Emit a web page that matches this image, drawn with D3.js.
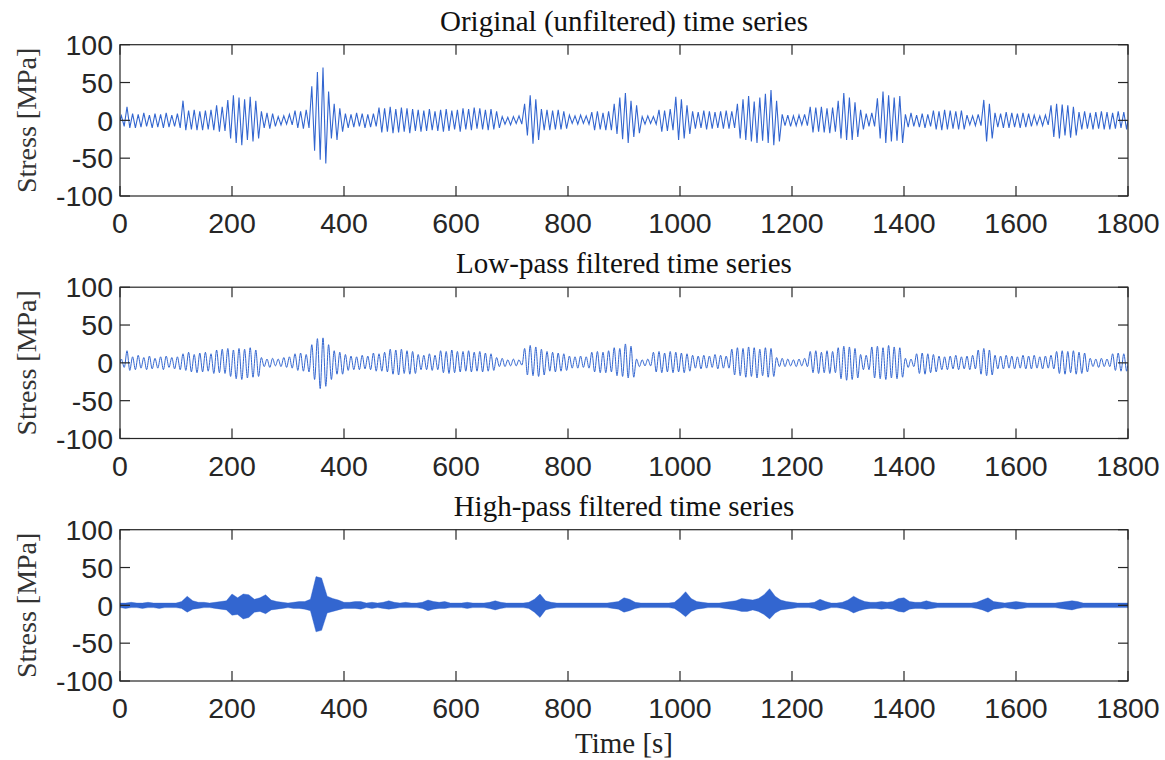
<!DOCTYPE html>
<html><head><meta charset="utf-8">
<script src="https://cdn.jsdelivr.net/npm/d3@7"></script>
<style>body{margin:0;background:#fff}</style>
</head><body><svg id="c" width="1165" height="760"></svg>
<script>
// ---------- data ----------
const panelTitles = ["Original (unfiltered) time series", "Low-pass filtered time series", "High-pass filtered time series"];
const xTicks = [0, 200, 400, 600, 800, 1000, 1200, 1400, 1600, 1800];
const yTicks = [-100, -50, 0, 50, 100];
const yLabel = "Stress [MPa]";
const xLabel = "Time [s]";
const cycleLen = 10;   // seconds per oscillation cycle (one peak + one trough)
const hpStep = 10;     // seconds between high-pass envelope samples

// Original series: per-cycle peak (positive) and trough (magnitude) [MPa]
const origPeak = [6,18, 9,8,10,7,9,8,10,7,9, 26, 13,14,12,13,14, 20,18, 27,33,30,28,31,26, 12,10,9, 5,6,8, 13,12,14, 45,64,70,38, 22,16, 9,8,10,9,8,9, 17,16,18,15,17,16,15, 14,13,15,12,14,15,13,14, 16,15,17,16,14,15,12, 5,4,5,6, 22,33,28, 15,14,13,14,12, 7,6,7,6, 11,12,10,12, 22,30,36,26,20, 5,6,5, 14,13,15, 31,28,20, 12,11,13,12,11,12,13,12, 22,28,32,25,30,35,40,26, 8,7,6,7,8, 18,17,18,16,17, 26,36,30,24,14, 9,10, 29,38,33,30,32, 8,10,7,9,8, 13,12,14,13,12,13, 7,6,8, 27,22, 10,9,11,10,9,10,9, 7,6,7, 20,22,21,20,18, 11,12,10,11,12,11,10,12,11];
const origTrough = [8,10, 10,9,8,10,9,10,9,8,10, 13, 12,13,13,12,13, 15,14, 24,30,33,26,28,24, 10,11,8, 6,5,6, 10,11,10, 40,52,57,24, 26,15, 10,9,8,10,9,8, 16,15,17,16,15,17,14, 15,14,13,14,15,14,12,15, 12,13,11,12,13,12,10, 5,6,4,5, 20,31,26, 13,13,12,12,11, 4,5,4,5, 13,12,13,13, 18,25,30,22,17, 5,4,5, 15,14,13, 26,24,18, 11,10,12,11,10,11,11,10, 24,26,28,30,27,30,33,28, 7,8,7,6,7, 16,15,16,17,15, 24,26,26,22,12, 8,8, 24,30,28,27,30, 9,8,9,10,8, 12,13,12,11,12,12, 6,7,7, 28,24, 9,10,10,9,10,9,8, 6,7,6, 22,24,20,23,20, 12,11,12,11,12,12,11,10,12];

// Low-pass series: per-cycle peak and trough magnitude [MPa]
const lowPeak = [5,16, 8,10,7,9,6,8,9,7,8, 12,14,11,13,14,12, 17,18, 19,17,19,18,20,17, 7,5,6,5,7,8, 12,13,11, 24,32,33,24, 16,14,11, 9,8,10,9, 13,12,14, 18,17,18,16,15, 11,10,12,10, 16,15,17,15, 15,16,14,15,13,12, 7,6,4,5,4, 19,23,21,18, 15,14,13,12, 9,8,9,8, 14,15,14,16, 20,19,25,22, 5,4,5, 14,15,13,15,14,13,12, 10,9,10,9,11,10,9, 18,20,19,21,20,18,20,19, 7,6,5,4,5,6, 15,16,14,16,15, 20,22,21,19, 11,10, 21,22,20,23,21,20, 6,5, 12,13,12,11, 9,8,9,10,8,9,10, 17,19,17, 10,9,10,9,8,10,9,10,8,9,10, 15,16,15,16,14,13, 6,5,6,5, 12,13,12];
const lowTrough = [6,10, 9,7,9,8,7,9,6,8,9, 10,12,13,12,11,14, 13,14, 18,21,22,20,19,18, 5,6,4,5,6,7, 10,11,12, 22,34,31,22, 15,15,10, 9,9,8,9, 11,11,12, 15,16,14,15,14, 9,9,10,9, 13,14,13,12, 11,12,11,12,11,10, 5,5,4,4,3, 16,17,18,16, 11,12,11,10, 7,7,6,7, 12,13,13,12, 17,18,20,19, 5,4,4, 12,13,12,13,12,13,11, 7,8,7,6,8,7,7, 16,17,19,18,20,17,19,18, 5,5,4,5,4,5, 13,14,13,14,13, 21,23,22,20, 9,9, 20,21,22,20,21,19, 6,5, 14,15,13,12, 9,9,8,9,8,9,8, 15,17,16, 8,8,7,8,7,8,8,7,8,7,8, 14,15,13,15,14,12, 5,6,5,5, 10,11,11];

// High-pass series: upper / lower envelope every 10 s (t = 0 ... 1800) [MPa]
const hpUpper = [3,3,4,3,3,4,3,3,3,3,3, 5,12,6,4,4,3,4,5,6,15, 10,15,14,8,10,14,7,5,4,3, 4,5,5,8,38,36,12,9,7,4, 4,5,5,3,4,3,4,6,4,3, 4,3,3,4,7,5,4,5,3,3, 3,4,3,3,3,4,6,4,3,3, 3,3,4,8,15,6,4,3,3,3, 3,3,3,3,3,3,3,4,5,10, 8,4,3,3,3,3,3,3,4,10, 18,9,5,4,3,3,3,4,5,6, 9,8,7,9,14,22,12,7,5,4, 3,3,3,4,8,5,3,3,4,7, 12,8,5,4,4,5,4,5,9,10, 5,4,4,6,4,3,3,3,3,3, 3,3,4,7,10,5,4,3,4,5, 4,3,3,3,3,3,3,4,5,6, 5,3,3,3,3,3,3,3,3,3];
const hpLower = [3,4,3,3,4,3,3,4,3,3,3, 4,9,5,4,3,3,4,5,6,13, 12,18,16,9,8,11,6,5,4,3, 4,4,5,7,35,33,10,8,6,4, 4,4,5,3,4,3,4,5,4,3, 3,3,3,4,7,5,4,4,3,3, 3,4,3,3,3,4,6,4,3,3, 3,3,4,9,16,6,4,3,3,3, 3,3,3,3,3,3,3,4,5,9, 7,4,3,3,3,3,3,3,4,9, 15,8,5,4,3,3,3,4,5,6, 8,8,6,8,12,18,10,6,5,4, 3,3,3,4,7,5,3,3,4,6, 10,7,5,4,4,5,4,5,8,9, 5,4,4,5,4,3,3,3,3,3, 3,3,4,6,9,5,4,3,4,5, 4,3,3,3,3,3,3,4,5,6, 4,3,3,3,3,3,3,3,3,3];

// ---------- layout ----------
const W = 1165, H = 760;
const plotLeft = 120, plotRight = 1128;
const panelTops = [44.7, 287.2, 529.7];
const panelH = 151.3;
const lineColor = "#3366d0";
const axisColor = "#262626";
const serif = "'Liberation Serif', 'Times New Roman', serif";
const sans = "'Liberation Sans', Arial, Helvetica, sans-serif";

const svg = d3.select("#c");
svg.append("rect").attr("width", W).attr("height", H).attr("fill", "#fff");

const x = d3.scaleLinear().domain([0, 1800]).range([plotLeft, plotRight]);

function extremaSeries(peaks, troughs) {
  const pts = [{t: 0, v: 0}];
  peaks.forEach((p, i) => {
    pts.push({t: i * cycleLen + cycleLen * 0.25, v: p});
    pts.push({t: i * cycleLen + cycleLen * 0.75, v: -troughs[i]});
  });
  pts.push({t: 1800, v: 0});
  return pts;
}
const hpEnv = hpUpper.map((u, i) => ({t: i * hpStep, u: u, l: -hpLower[i]}));

panelTops.forEach((top, pi) => {
  const y = d3.scaleLinear().domain([-100, 100]).range([top + panelH, top]);
  const g = svg.append("g");
  const clipId = "clip" + pi;
  svg.append("clipPath").attr("id", clipId).append("rect")
    .attr("x", plotLeft).attr("y", top).attr("width", plotRight - plotLeft).attr("height", panelH);

  const dataG = g.append("g").attr("clip-path", `url(#${clipId})`);
  if (pi === 0) {
    const pts = extremaSeries(origPeak, origTrough);
    dataG.append("path").datum(pts)
      .attr("d", d3.line().x(d => x(d.t)).y(d => y(d.v)).curve(d3.curveLinear))
      .attr("fill", "none").attr("stroke", lineColor).attr("stroke-width", 1.1);
  } else if (pi === 1) {
    const pts = extremaSeries(lowPeak, lowTrough);
    dataG.append("path").datum(pts)
      .attr("d", d3.line().x(d => x(d.t)).y(d => y(d.v)).curve(d3.curveCatmullRom.alpha(0.5)))
      .attr("fill", "none").attr("stroke", lineColor).attr("stroke-width", 1);
  } else {
    const hpArea = d3.area().x(d => x(d.t)).y0(d => y(d.l)).y1(d => y(d.u)).curve(d3.curveLinear);
    dataG.append("path").datum(hpEnv).attr("d", hpArea)
      .attr("fill", lineColor).attr("stroke", lineColor).attr("stroke-width", 0.4);
  }

  // frame
  g.append("rect").attr("x", plotLeft).attr("y", top).attr("width", plotRight - plotLeft).attr("height", panelH)
    .attr("fill", "none").attr("stroke", axisColor).attr("stroke-width", 1.2);

  // ticks (inward, all four sides)
  const tl = 10;
  xTicks.forEach(t => {
    g.append("line").attr("x1", x(t)).attr("x2", x(t)).attr("y1", top + panelH).attr("y2", top + panelH - tl).attr("stroke", axisColor).attr("stroke-width", 1.2);
    g.append("line").attr("x1", x(t)).attr("x2", x(t)).attr("y1", top).attr("y2", top + tl).attr("stroke", axisColor).attr("stroke-width", 1.2);
    g.append("text").attr("x", x(t)).attr("y", top + panelH + 37).attr("text-anchor", "middle")
      .attr("font-family", sans).attr("font-size", 28.5).attr("fill", axisColor).text(t);
  });
  yTicks.forEach(v => {
    g.append("line").attr("x1", plotLeft).attr("x2", plotLeft + tl).attr("y1", y(v)).attr("y2", y(v)).attr("stroke", axisColor).attr("stroke-width", 1.2);
    g.append("line").attr("x1", plotRight).attr("x2", plotRight - tl).attr("y1", y(v)).attr("y2", y(v)).attr("stroke", axisColor).attr("stroke-width", 1.2);
    g.append("text").attr("x", plotLeft - 7).attr("y", y(v)).attr("dy", "0.36em").attr("text-anchor", "end")
      .attr("font-family", sans).attr("font-size", 28.5).attr("fill", axisColor).text(v);
  });

  // title
  g.append("text").attr("x", (plotLeft + plotRight) / 2).attr("y", top - 14).attr("text-anchor", "middle")
    .attr("font-family", serif).attr("font-size", 29).attr("fill", "#111").text(panelTitles[pi]);

  // y label
  g.append("text").attr("transform", `translate(36,${top + panelH / 2}) rotate(-90)`).attr("text-anchor", "middle")
    .attr("font-family", serif).attr("font-size", 28).attr("fill", "#333").text(yLabel);
});

svg.append("text").attr("x", (plotLeft + plotRight) / 2).attr("y", 753).attr("text-anchor", "middle")
  .attr("font-family", serif).attr("font-size", 29).attr("fill", "#222").text(xLabel);
</script>
</body></html>
